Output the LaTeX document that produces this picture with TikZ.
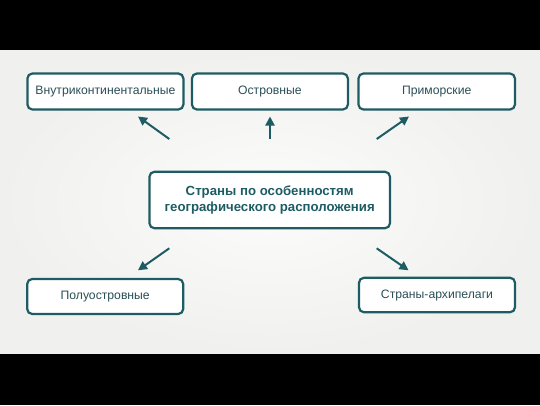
\documentclass[tikz,border=0pt]{standalone}
\usepackage{fontspec}
\setmainfont{Liberation Sans}
\usetikzlibrary{arrows.meta}
\definecolor{teal1}{HTML}{1E5C63}
\definecolor{txt}{HTML}{2A4F55}
\definecolor{bgout}{HTML}{F0F0EE}
\definecolor{bgin}{HTML}{FCFCFC}
\tikzset{
  box/.style={draw=teal1, line width=2.2pt, rounded corners=5pt, fill=white,
    inner sep=0pt, text=txt, font=\fontsize{12.2}{14}\selectfont, align=center},
  arr/.style={draw=teal1, line width=2pt, -{Triangle[length=9pt,width=9pt]}},
}
\begin{document}
\begin{tikzpicture}[x=1pt,y=-1pt]
\useasboundingbox (0,0) rectangle (540,405);
\fill[black] (0,0) rectangle (540,405);
\shade[inner color=bgin, outer color=bgout] (0,50) rectangle (540,353);
% nodes
\node[box, minimum width=156pt, minimum height=36pt] (n1) at (105.4,91.5) {Внутриконтинентальные};
\node[box, minimum width=156pt, minimum height=36pt] (n2) at (269.9,91.5) {Островные};
\node[box, minimum width=156.5pt, minimum height=36pt] (n3) at (436.7,91.5) {Приморские};
\node[box, minimum width=240.5pt, minimum height=56.5pt, text=teal1,
  font=\fontsize{13.2}{15.4}\selectfont\bfseries] (c) at (269.7,200) {Страны по особенностям\\географического расположения};
\node[box, minimum width=156pt, minimum height=35pt] (n4) at (105.2,296.5) {Полуостровные};
\node[box, minimum width=156pt, minimum height=34.5pt] (n5) at (437,295) {Страны-архипелаги};
% arrow endpoints
\coordinate (t1) at (169.3,139);  \coordinate (h1) at (138,116.5);
\coordinate (t2) at (270,139);    \coordinate (h2) at (270,116.5);
\coordinate (t3) at (376.7,139);  \coordinate (h3) at (409,116.5);
\coordinate (t4) at (169.3,248.3);\coordinate (h4) at (138,270.3);
\coordinate (t5) at (376.7,248.3);\coordinate (h5) at (408.5,270.3);
\draw[arr] (t1) -- (h1);
\draw[arr] (t2) -- (h2);
\draw[arr] (t3) -- (h3);
\draw[arr] (t4) -- (h4);
\draw[arr] (t5) -- (h5);
\end{tikzpicture}
\end{document}
